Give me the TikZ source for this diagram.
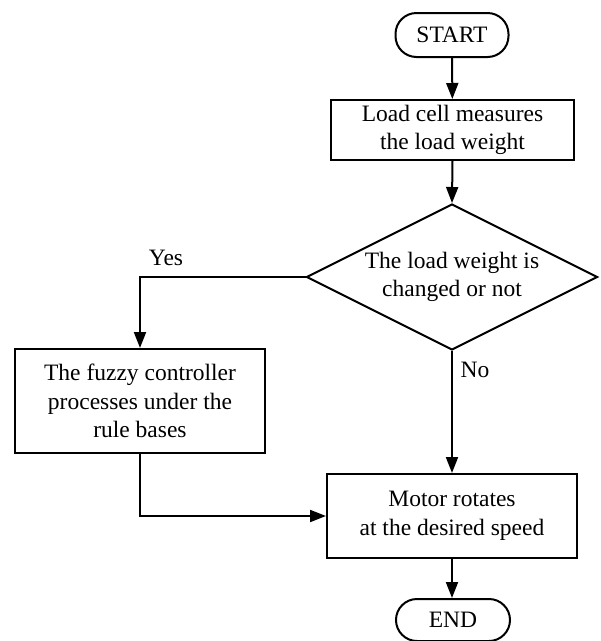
\documentclass[tikz,border=0pt]{standalone}
\usepackage{fontspec}
\setmainfont{Liberation Serif}
\usetikzlibrary{shapes.geometric,arrows.meta}
\begin{document}
\begin{tikzpicture}[x=1pt,y=-1pt,
  every node/.style={font=\fontsize{23.5}{28.5}\selectfont, align=center},
  proc/.style={draw, line width=2pt, rectangle, inner sep=0pt},
  term/.style={draw, line width=2pt, rectangle, rounded corners=21pt, inner sep=0pt, minimum width=113pt, minimum height=44pt},
  decide/.style={draw, line width=2pt, diamond, aspect=2, inner sep=0pt, minimum width=291pt, minimum height=146pt},
  conn/.style={line width=2pt, -{Triangle[length=16pt,width=12pt]}},
  lbl/.style={inner sep=0pt}]
\useasboundingbox (0,0) rectangle (601,641);
\node[term] (start) at (452,35) {START};
\node[proc, minimum width=243pt, minimum height=60pt] (load) at (452.5,130) {Load cell measures\\the load weight};
\node[decide] (dec) at (452,277) {The load weight is\\changed or not};
\node[proc, minimum width=250pt, minimum height=104pt] (fuzzy) at (140,401) {The fuzzy controller\\processes under the\\rule bases};
\node[proc, minimum width=250pt, minimum height=84pt] (motor) at (452,516) {Motor rotates\\at the desired speed};
\node[term, minimum width=114pt, minimum height=42pt] (end) at (453,620) {END};
\node[lbl] (yes) at (166,258) {Yes};
\node[lbl] (no) at (475,370) {No};
\draw[conn] (start) -- (load);
\draw[conn] (load.south) -- (dec.north);
\draw[conn] (dec.west) -| (fuzzy.north);
\draw[conn] (dec.south) -- (motor.north);
\draw[conn] (fuzzy.south) |- (motor.west);
\draw[conn] (motor.south) -- (end.north -| motor.south);
\end{tikzpicture}
\end{document}
